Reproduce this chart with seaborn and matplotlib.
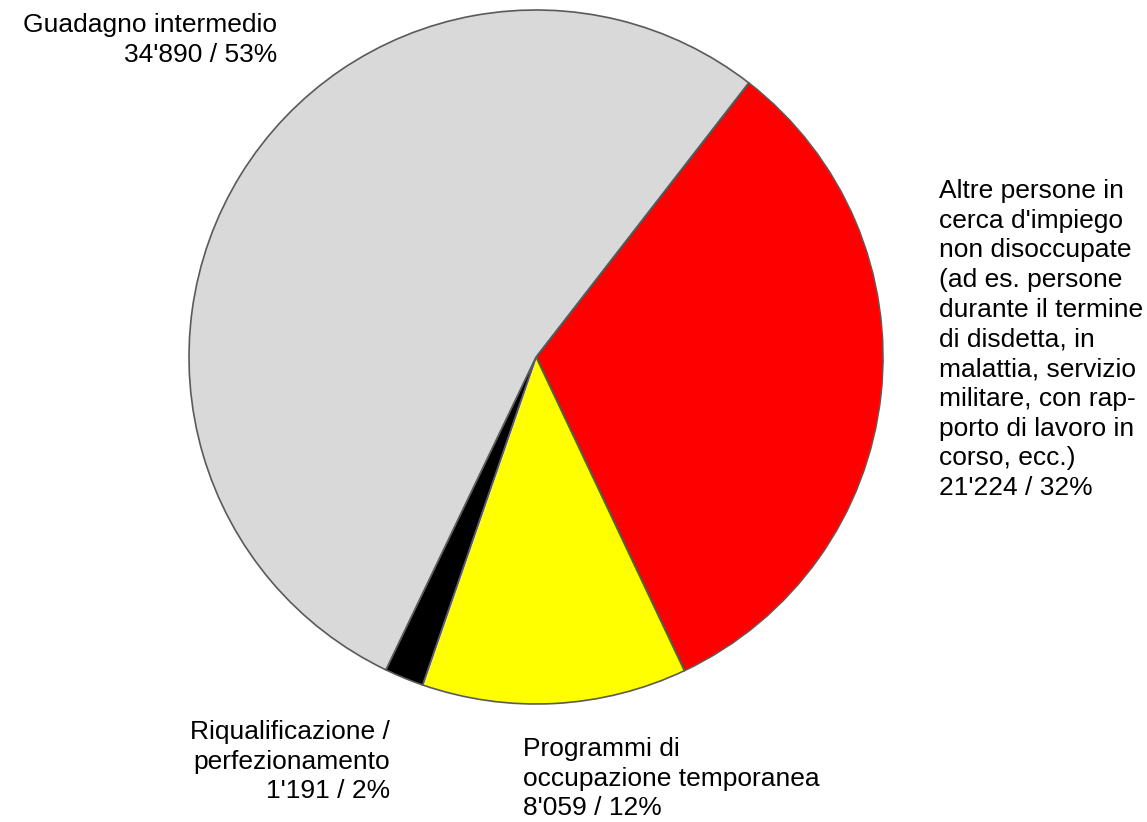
import matplotlib.pyplot as plt
import seaborn as sns

categories = ["Altre persone in\ncerca d'impiego\nnon disoccupate\n(ad es. persone\ndurante il termine\ndi disdetta, in\nmalattia, servizio\nmilitare, con rap-\nporto di lavoro in\ncorso, ecc.)",
              "Programmi di\noccupazione temporanea",
              "Riqualificazione /\nperfezionamento",
              "Guadagno intermedio"]
values = [21224, 8059, 1191, 34890]
value_labels = ["21'224", "8'059", "1'191", "34'890"]
colors = ['#ff0000', '#ffff00', '#000000', '#d9d9d9']

sns.set_theme(style='white')
plt.rcParams['font.family'] = ['Liberation Sans', 'DejaVu Sans']

W, H = 1147, 822
fig = plt.figure(figsize=(W / 100, H / 100), dpi=100)
ax = fig.add_axes([0, 0, 1, 1])

total = sum(values)
ax.pie(values, colors=colors, startangle=52.2, counterclock=False,
       center=(536, H - 357), radius=347,
       wedgeprops=dict(edgecolor='#5a5a5a', linewidth=1.2))

ax.set_xlim(0, W)
ax.set_ylim(0, H)
ax.set_aspect('equal')
ax.axis('off')

pcts = [f"{v / total * 100:.0f}%" for v in values]
texts = [f"{c}\n{vl} / {p}" for c, vl, p in zip(categories, value_labels, pcts)]

kw = dict(va='top', fontsize=19, linespacing=1.3, color='black')
ax.text(939, H - 179, texts[0], ha='left', **kw)
ax.text(523, H - 737, texts[1], ha='left', **kw)
ax.text(390, H - 720, texts[2], ha='right', multialignment='right', **kw)
ax.text(277, H - 13, texts[3], ha='right', multialignment='right', **kw)

plt.savefig('out.png', dpi=100)
